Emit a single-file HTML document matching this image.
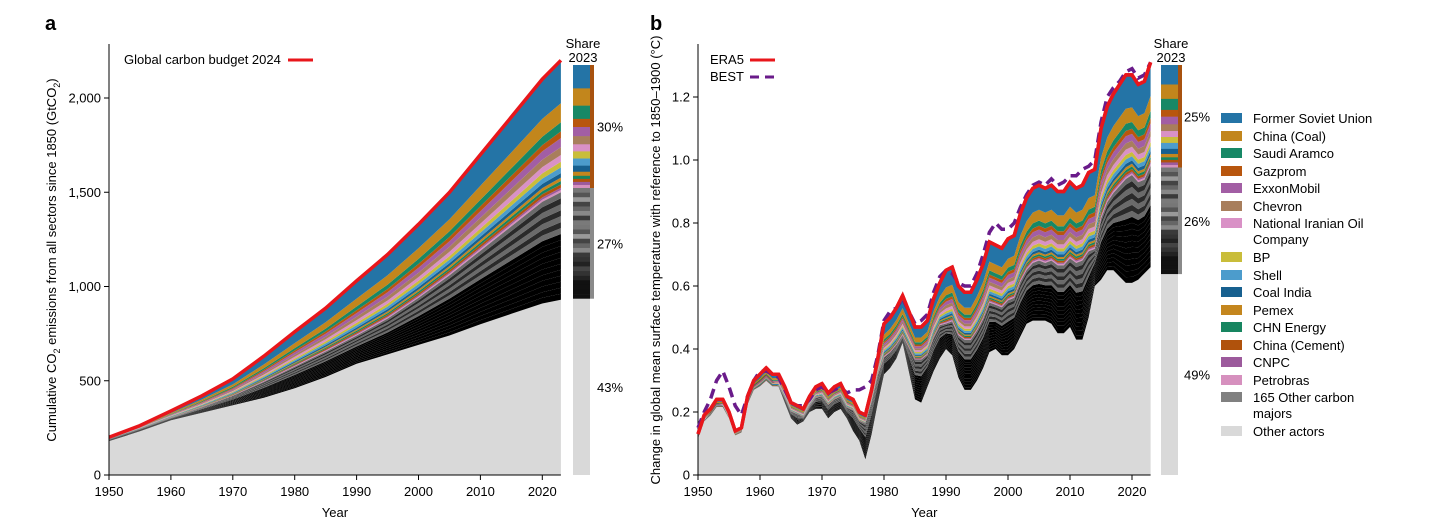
<!DOCTYPE html>
<html><head><meta charset="utf-8"><style>
body{margin:0;background:#fff;}
svg{display:block;font-family:"Liberation Sans",Arial,sans-serif;}
</style></head><body>
<svg id="fig" width="1456" height="523" viewBox="0 0 1456 523" xmlns="http://www.w3.org/2000/svg">
<g id="pa"></g>
<g id="pb"></g>
<g id="lg"></g>
</svg>
<script>
// ---- shared data ----
const companies = ["Former Soviet Union","China (Coal)","Saudi Aramco","Gazprom","ExxonMobil","Chevron","National Iranian Oil Company","BP","Shell","Coal India","Pemex","CHN Energy","China (Cement)","CNPC","Petrobras"];
const companyColors = ["#2474a6","#c2861c","#178866","#b8560e","#a25ea4","#a87e5c","#d991c6","#c9bd3a","#4c9ccc","#17608f","#c4861e","#178560","#b0520c","#9c5a9c","#d690be"];
const companyShare = [23,17,13,8,9,8,7,7,7,6,4,3,3,3,3];
const companyAreaShare = [38,17,8,6,8,7,6,5,5,4,3,3,3,2,2];
// ---- panel a data ----
const yearsA = [1950,1955,1960,1965,1970,1975,1980,1985,1990,1995,2000,2005,2010,2015,2020,2023];
const totalA = [200,262,340,420,510,630,760,885,1030,1170,1330,1500,1700,1900,2100,2200];
const otherA = [180,232,290,330,370,410,460,520,590,640,690,740,800,855,910,930];
const majorsTopA = [190,245,305,360,420,495,575,655,740,830,940,1060,1190,1320,1450,1500];
const ticksA = [0,500,1000,1500,2000];
const tickLabelsA = ["0","500","1,000","1,500","2,000"];
const sharesA = [30,27,43];
// ---- panel b data ----
const yearsB = []; for(let y=1950;y<=2023;y++) yearsB.push(y);
const era5 = [.13,.19,.21,.24,.24,.20,.14,.15,.25,.30,.32,.34,.32,.32,.28,.23,.22,.21,.25,.28,.29,.26,.28,.29,.25,.24,.20,.19,.27,.37,.48,.50,.53,.57,.52,.47,.47,.49,.56,.61,.65,.66,.60,.58,.58,.62,.67,.74,.73,.72,.75,.76,.83,.88,.91,.92,.91,.92,.90,.90,.93,.91,.92,.96,.97,1.10,1.17,1.21,1.24,1.27,1.27,1.24,1.25,1.31];
const best = [.15,.20,.24,.30,.33,.28,.22,.19,.25,.30,.33,.33,.32,.31,.27,.23,.22,.22,.24,.27,.28,.26,.27,.28,.26,.27,.27,.28,.30,.38,.49,.52,.53,.56,.52,.48,.49,.51,.58,.63,.65,.64,.61,.60,.60,.64,.70,.77,.80,.78,.78,.80,.85,.89,.92,.93,.92,.94,.92,.93,.95,.95,.97,.98,1.00,1.12,1.20,1.23,1.25,1.28,1.29,1.26,1.27,1.31];
const otherB = [.12,.17,.20,.23,.22,.18,.13,.14,.23,.29,.31,.32,.30,.28,.23,.18,.16,.17,.20,.21,.21,.18,.20,.21,.18,.14,.11,.05,.13,.23,.32,.34,.37,.42,.33,.24,.23,.28,.33,.37,.40,.38,.31,.27,.27,.30,.34,.39,.40,.38,.38,.40,.44,.48,.49,.49,.49,.48,.45,.45,.47,.43,.43,.50,.60,.62,.65,.65,.63,.61,.61,.62,.64,.66];
const coloredFracByDecade = [0.10,0.12,0.14,0.22,0.26,0.26,0.26,0.25];
const ticksB = [0,0.2,0.4,0.6,0.8,1.0,1.2];
const tickLabelsB = ["0","0.2","0.4","0.6","0.8","1.0","1.2"];
const sharesB = [25,26,49];
const xTicks = [1950,1960,1970,1980,1990,2000,2010,2020];

const NS="http://www.w3.org/2000/svg";
function mk(parent,tag,attrs,text){const e=document.createElementNS(NS,tag);for(const k in attrs)e.setAttribute(k,attrs[k]);if(text!==undefined)e.textContent=text;parent.appendChild(e);return e;}
function areaPath(xs,lo,hi){let d="M"+xs.map((x,i)=>x.toFixed(1)+","+hi[i].toFixed(1)).join("L");for(let i=xs.length-1;i>=0;i--)d+="L"+xs[i].toFixed(1)+","+lo[i].toFixed(1);return d+"Z";}
function linePath(xs,ys){return "M"+xs.map((x,i)=>x.toFixed(1)+","+ys[i].toFixed(1)).join("L");}
const shareSum = companyShare.reduce((a,b)=>a+b,0);
const areaShareSum = companyAreaShare.reduce((a,b)=>a+b,0);

function drawPanel(g,opt){
  const {x0,years,total,other,majorsTop,yScale,ticks,tickLabels,shares,barX,letter,letterX,yTitle,yTitleX,pctX} = opt;
  const xs = years.map(opt.xScale);
  const yO = other.map(yScale), yM = majorsTop.map(yScale), yT = total.map(yScale);
  let e=mk(g,"path",{d:areaPath(xs,xs.map(()=>yScale(0)),yO),fill:"#d9d9d9"});
  
  const nb=18;
  for(let k=0;k<nb;k++){
    const lo=yO.map((v,i)=>v+(yM[i]-v)*k/nb), hi=yO.map((v,i)=>v+(yM[i]-v)*(k+1)/nb);
    const col = k<nb*0.6 ? "#000" : (k%2?"#6a6a6a":"#2a2a2a");
    e=mk(g,"path",{d:areaPath(xs,lo,hi),fill:col});
    
  }
  let acc=yM.slice();
  for(let c=companies.length-1;c>=0;c--){
    const hi=acc.map((v,i)=>v+(yT[i]-yM[i])*companyAreaShare[c]/areaShareSum);
    e=mk(g,"path",{d:areaPath(xs,acc,hi),fill:companyColors[c]});
    
    acc=hi;
  }
  e=mk(g,"path",{d:linePath(xs,yT),fill:"none",stroke:"#e8161b","stroke-width":3.5,"stroke-linejoin":"round"});
  
  const xr=opt.xScale(2023), yb=yScale(0);
  e=mk(g,"line",{x1:x0,y1:44,x2:x0,y2:yb,stroke:"#000","stroke-width":1});
  
  e=mk(g,"line",{x1:x0,y1:yb,x2:xr,y2:yb,stroke:"#000","stroke-width":1});
  
  ticks.forEach((t,i)=>{const y=yScale(t);mk(g,"line",{x1:x0-5,y1:y,x2:x0,y2:y,stroke:"#000"});
    e=mk(g,"text",{x:x0-8,y:y+4.5,"text-anchor":"end","font-size":13},tickLabels[i]);
    });
  xTicks.forEach(t=>{const x=opt.xScale(t);mk(g,"line",{x1:x,y1:yb,x2:x,y2:yb+5,stroke:"#000"});
    e=mk(g,"text",{x:x,y:yb+21,"text-anchor":"middle","font-size":13},String(t));
    });
  e=mk(g,"text",{x:(x0+xr)/2,y:517,"text-anchor":"middle","font-size":13},"Year");
  
  e=mk(g,"text",{x:letterX,y:30,"font-size":20,"font-weight":"bold"},letter);
  
  e=mk(g,"text",{transform:`translate(${yTitleX},260) rotate(-90)`,"text-anchor":"middle","font-size":13},"");
  e.innerHTML=yTitle;
  
  const bt=65, bb=475, H=bb-bt;
  const cH=H*shares[0]/100, gH=H*shares[1]/100;
  let y=bt;
  companies.forEach((c,i)=>{const h=cH*companyShare[i]/shareSum;
    e=mk(g,"rect",{x:barX,y:y,width:17,height:h+0.3,fill:companyColors[i]});
    y+=h;});
  for(let k=0;k<24;k++){const h=gH/24;
    const col=["#777","#555","#999","#444","#666","#888","#3a3a3a","#7a7a7a"][k%8];
    e=mk(g,"rect",{x:barX,y:y+k*h,width:17,height:h+0.3,fill:k>19?"#111":(k>14?["#333","#222","#444"][k%3]:col)});
    }
  e=mk(g,"rect",{x:barX,y:bt+cH+gH,width:17,height:H-cH-gH,fill:"#d9d9d9"});
  
  mk(g,"rect",{x:barX+17,y:bt,width:4,height:cH,fill:"#a8520f"});
  mk(g,"rect",{x:barX+17,y:bt+cH,width:4,height:gH,fill:"#8a8a8a"});
  e=mk(g,"text",{x:barX+10,y:48,"text-anchor":"middle","font-size":13},"Share");
  
  mk(g,"text",{x:barX+10,y:62,"text-anchor":"middle","font-size":13},"2023");
  const mids=[bt+cH/2,bt+cH+gH/2,bt+cH+gH+(H-cH-gH)/2];
  shares.forEach((s,i)=>{e=mk(g,"text",{x:pctX,y:mids[i]+5,"font-size":13},s+"%");
    });
}

const xA = yr=>109+(yr-1950)*6.19;
const yA = v=>475-v*0.1885;
drawPanel(document.getElementById("pa"),{x0:109,years:yearsA,total:totalA,other:otherA,majorsTop:majorsTopA,xScale:xA,yScale:yA,ticks:ticksA,tickLabels:tickLabelsA,shares:sharesA,barX:573,letter:"a",letterX:45,yTitle:'Cumulative CO<tspan dy="4" font-size="9">2</tspan><tspan dy="-4"> emissions from all sectors since 1850 (GtCO</tspan><tspan dy="4" font-size="9">2</tspan><tspan dy="-4">)</tspan>',yTitleX:56,pctX:597});
(function(){const g=document.getElementById("pa");
 let e=mk(g,"text",{x:124,y:64,"font-size":13},"Global carbon budget 2024");
 e=mk(g,"line",{x1:288,y1:60,x2:313,y2:60,stroke:"#e8161b","stroke-width":3});})();

const xB = yr=>698+(yr-1950)*6.2;
const yB = v=>475-v*315;
const majorsTopB = era5.map((t,i)=>t*(1-coloredFracByDecade[Math.floor(i/10)]));
drawPanel(document.getElementById("pb"),{x0:698,years:yearsB,total:era5,other:otherB,majorsTop:majorsTopB,xScale:xB,yScale:yB,ticks:ticksB,tickLabels:tickLabelsB,shares:sharesB,barX:1161,letter:"b",letterX:650,yTitle:'Change in global mean surface temperature with reference to 1850–1900 (°C)',yTitleX:660,pctX:1184});
(function(){const g=document.getElementById("pb");
 let e=mk(g,"path",{d:linePath(yearsB.map(xB),best.map(yB)),fill:"none",stroke:"#6a1b8a","stroke-width":3.5,"stroke-dasharray":"10,6"});
 
 e=mk(g,"path",{d:linePath(yearsB.map(xB),era5.map(yB)),fill:"none",stroke:"#e8161b","stroke-width":3.5});
 
 e=mk(g,"text",{x:710,y:64,"font-size":13},"ERA5");
 e=mk(g,"line",{x1:750,y1:60,x2:775,y2:60,stroke:"#e8161b","stroke-width":3});
 e=mk(g,"text",{x:710,y:81,"font-size":13},"BEST");
 e=mk(g,"line",{x1:750,y1:77,x2:775,y2:77,stroke:"#6a1b8a","stroke-width":3,"stroke-dasharray":"9,6"});})();

(function(){const g=document.getElementById("lg");
 const items=companies.map((c,i)=>({label:c,color:companyColors[i]}));
 items.push({label:"165 Other carbon majors",color:"#808080"});
 items.push({label:"Other actors",color:"#d9d9d9"});
 const ys=[118,136,153,171,188,206,223,257,275,292,310,327,345,362,380,397,431];
 items.forEach((it,i)=>{const y=ys[i];
  let e=mk(g,"rect",{x:1221,y:y-5,width:21,height:10,fill:it.color});
  
  let lines=[it.label];
  if(it.label==="National Iranian Oil Company")lines=["National Iranian Oil","Company"];
  if(it.label==="165 Other carbon majors")lines=["165 Other carbon","majors"];
  lines.forEach((l,j)=>{e=mk(g,"text",{x:1253,y:y+5+j*16,"font-size":13},l);
   });
 });})();
</script>
</body></html>
